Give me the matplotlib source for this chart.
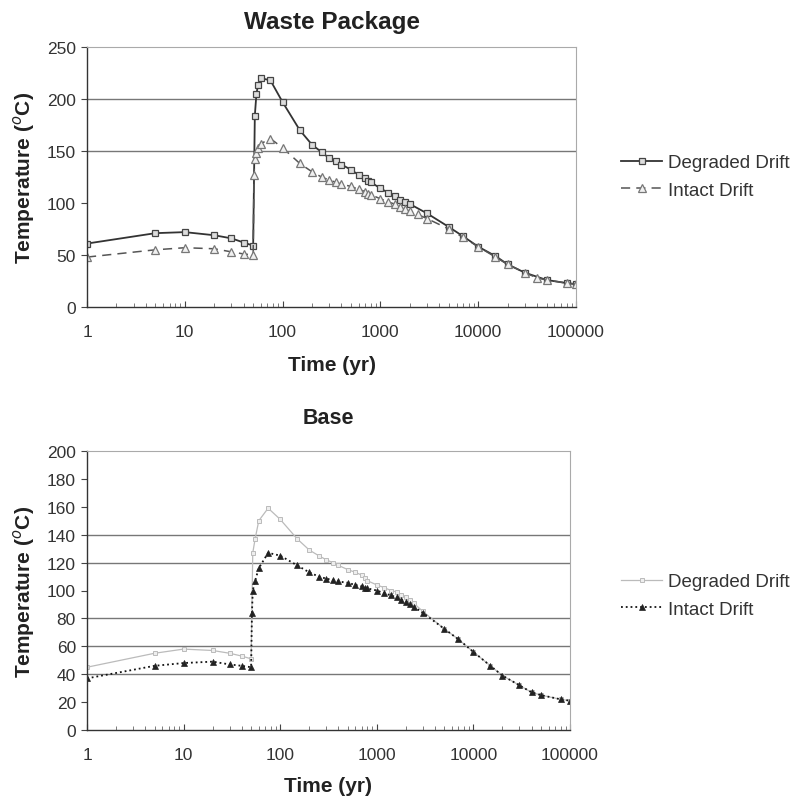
import matplotlib
matplotlib.use("Agg")
import matplotlib.pyplot as plt
from matplotlib.ticker import FixedLocator, FixedFormatter, LogLocator, NullFormatter

plt.rcParams['font.family'] = ['Liberation Sans', 'DejaVu Sans']

# ---------------- Data: Waste Package ----------------
wp_deg_t = [1, 5, 10, 20, 30, 40, 50, 52, 54, 56, 60, 75, 100, 150, 200, 250, 300, 350, 400,
            500, 600, 700, 750, 800, 1000, 1200, 1400, 1600, 1800, 2000, 3000, 5000, 7000,
            10000, 15000, 20000, 30000, 50000, 80000, 100000]
wp_deg_T = [61, 71, 72, 69, 66, 62, 59, 184, 205, 213, 220, 218, 197, 170, 156, 149, 143, 140, 137,
            132, 127, 124, 121, 120, 114, 110, 107, 103, 101, 99, 90, 77, 68, 58, 49, 41, 33, 26, 23, 22]

wp_int_t = [1, 5, 10, 20, 30, 40, 50, 51, 52, 53, 56, 60, 75, 100, 150, 200, 250, 300, 350, 400,
            500, 600, 700, 750, 800, 1000, 1200, 1400, 1600, 1800, 2000, 2400, 3000, 5000, 7000,
            10000, 15000, 20000, 30000, 40000, 50000, 80000, 100000]
wp_int_T = [48, 55, 57, 56, 53, 51, 50, 127, 142, 148, 153, 157, 162, 153, 138, 130, 125, 122, 120, 118,
            116, 113, 111, 109, 108, 104, 101, 99, 96, 94, 92, 89, 85, 75, 67, 58, 48, 41, 33, 28, 26, 23, 22]

# ---------------- Data: Base ----------------
b_deg_t = [1, 5, 10, 20, 30, 40, 50, 52, 55, 60, 75, 100, 150, 200, 250, 300, 350, 400, 500, 600,
           700, 750, 800, 1000, 1200, 1400, 1600, 1800, 2000, 2200, 2400, 3000, 5000, 7000, 10000,
           15000, 20000, 30000, 40000, 50000, 80000, 100000]
b_deg_T = [45, 55, 58, 57, 55, 53, 51, 127, 137, 150, 159, 151, 137, 129, 125, 122, 120, 118, 115, 113,
           111, 109, 107, 104, 102, 100, 99, 97, 95, 93, 91, 85, 72.5, 65, 56, 46, 39, 32, 27, 25, 22, 21]

b_int_t = [1, 5, 10, 20, 30, 40, 50, 51, 52, 55, 60, 75, 100, 150, 200, 250, 300, 350, 400, 500, 600,
           700, 750, 800, 1000, 1200, 1400, 1600, 1800, 2000, 2200, 2400, 3000, 5000, 7000, 10000,
           15000, 20000, 30000, 40000, 50000, 80000, 100000]
b_int_T = [37, 46, 48, 49, 47, 46, 45, 84, 100, 107, 116, 127, 125, 118, 113, 110, 108.5, 107.5, 106.5,
           105.5, 104, 103, 102, 101.5, 100, 98, 96.5, 95, 93.5, 92, 90, 88.5, 84, 72.5, 65, 56,
           46, 39, 32, 27, 25, 22, 21]

x_ticks = [1, 10, 100, 1000, 10000, 100000]
x_labels = ['1', '10', '100', '1000', '10000', '100000']
wp_yticks = [0, 50, 100, 150, 200, 250]
b_yticks = [0, 20, 40, 60, 80, 100, 120, 140, 160, 180, 200]
wp_grid_vals = [150, 200]
b_grid_vals = [40, 60, 80, 120, 140]

fig = plt.figure(figsize=(8.02, 8.03), dpi=100)
W, H = 802, 803

def axes_px(l, t, r, b):
    return fig.add_axes([l / W, 1 - b / H, (r - l) / W, (b - t) / H])

ax1 = axes_px(87, 48, 576, 308)
ax2 = axes_px(87, 452, 570, 731)

def style(ax, yticks, gridvals, ylim, xlabelpad):
    ax.set_xscale('log')
    ax.set_xlim(1, 100000)
    ax.set_ylim(*ylim)
    ax.xaxis.set_major_locator(FixedLocator(x_ticks))
    ax.xaxis.set_major_formatter(FixedFormatter(x_labels))
    ax.xaxis.set_minor_locator(LogLocator(base=10, subs=range(2, 10), numticks=20))
    ax.xaxis.set_minor_formatter(NullFormatter())
    ax.set_yticks(yticks)
    ax.tick_params(axis='x', which='major', direction='in', length=4, colors='#444444',
                   labelsize=12.5, pad=12, labelcolor='#333333')
    ax.tick_params(axis='x', which='minor', direction='in', length=3, color='#666666')
    ax.tick_params(axis='y', which='major', direction='out', length=4, colors='#444444',
                   labelsize=12.5, labelcolor='#333333', pad=4)
    for s in ['left', 'bottom']:
        ax.spines[s].set_color('#333333')
        ax.spines[s].set_linewidth(1.0)
    for s in ['top', 'right']:
        ax.spines[s].set_color('#aaaaaa')
        ax.spines[s].set_linewidth(0.8)
    ax.grid(True, axis='y', color='#777777', linewidth=1.0)
    ax.set_axisbelow(True)
    for val, gl in zip(ax.get_yticks(), ax.get_ygridlines()):
        gl.set_visible(val in gridvals)
    ax.set_xlabel('Time (yr)', fontsize=15, fontweight='bold', color='#222222', labelpad=xlabelpad)
    ax.set_ylabel('Temperature ($^{o}$C)', fontsize=15, fontweight='bold', color='#222222', labelpad=7)

style(ax1, wp_yticks, wp_grid_vals, (0, 250), 12)
style(ax2, b_yticks, b_grid_vals, (0, 200), 10)

ax1.set_title('Waste Package', fontsize=17.5, fontweight='bold', color='#222222', pad=14)
ax2.set_title('Base', fontsize=15.5, fontweight='bold', color='#222222', pad=20)

l1, = ax1.plot(wp_deg_t, wp_deg_T, '-', color='#333333', lw=1.3, marker='s', ms=4.5,
               mfc='#dddddd', mec='#444444', mew=0.9, label='Degraded Drift')
l2, = ax1.plot(wp_int_t, wp_int_T, '--', color='#555555', lw=1.1, marker='^', ms=5.5,
               mfc='#f0f0f0', mec='#777777', mew=0.9, dashes=(6, 4), label='Intact Drift')

l3, = ax2.plot(b_deg_t, b_deg_T, '-', color='#bbbbbb', lw=0.9, marker='s', ms=3.5,
               mfc='#eeeeee', mec='#bbbbbb', mew=0.7, label='Degraded Drift')
l4, = ax2.plot(b_int_t, b_int_T, ':', color='#111111', lw=1.3, marker='^', ms=4.5,
               mfc='#222222', mec='#222222', mew=0.5, label='Intact Drift')

leg_kw = dict(loc='upper left', frameon=False, fontsize=13.5, handlelength=2.2,
              handletextpad=0.3, labelspacing=0.55, borderaxespad=0, borderpad=0,
              labelcolor='#333333')
fig.legend(handles=[l1, l2], bbox_to_anchor=(621 / W, 1 - 155 / H), **leg_kw)
fig.legend(handles=[l3, l4], bbox_to_anchor=(621 / W, 1 - 574 / H), **leg_kw)

fig.savefig('out.png', dpi=100, facecolor='white')
